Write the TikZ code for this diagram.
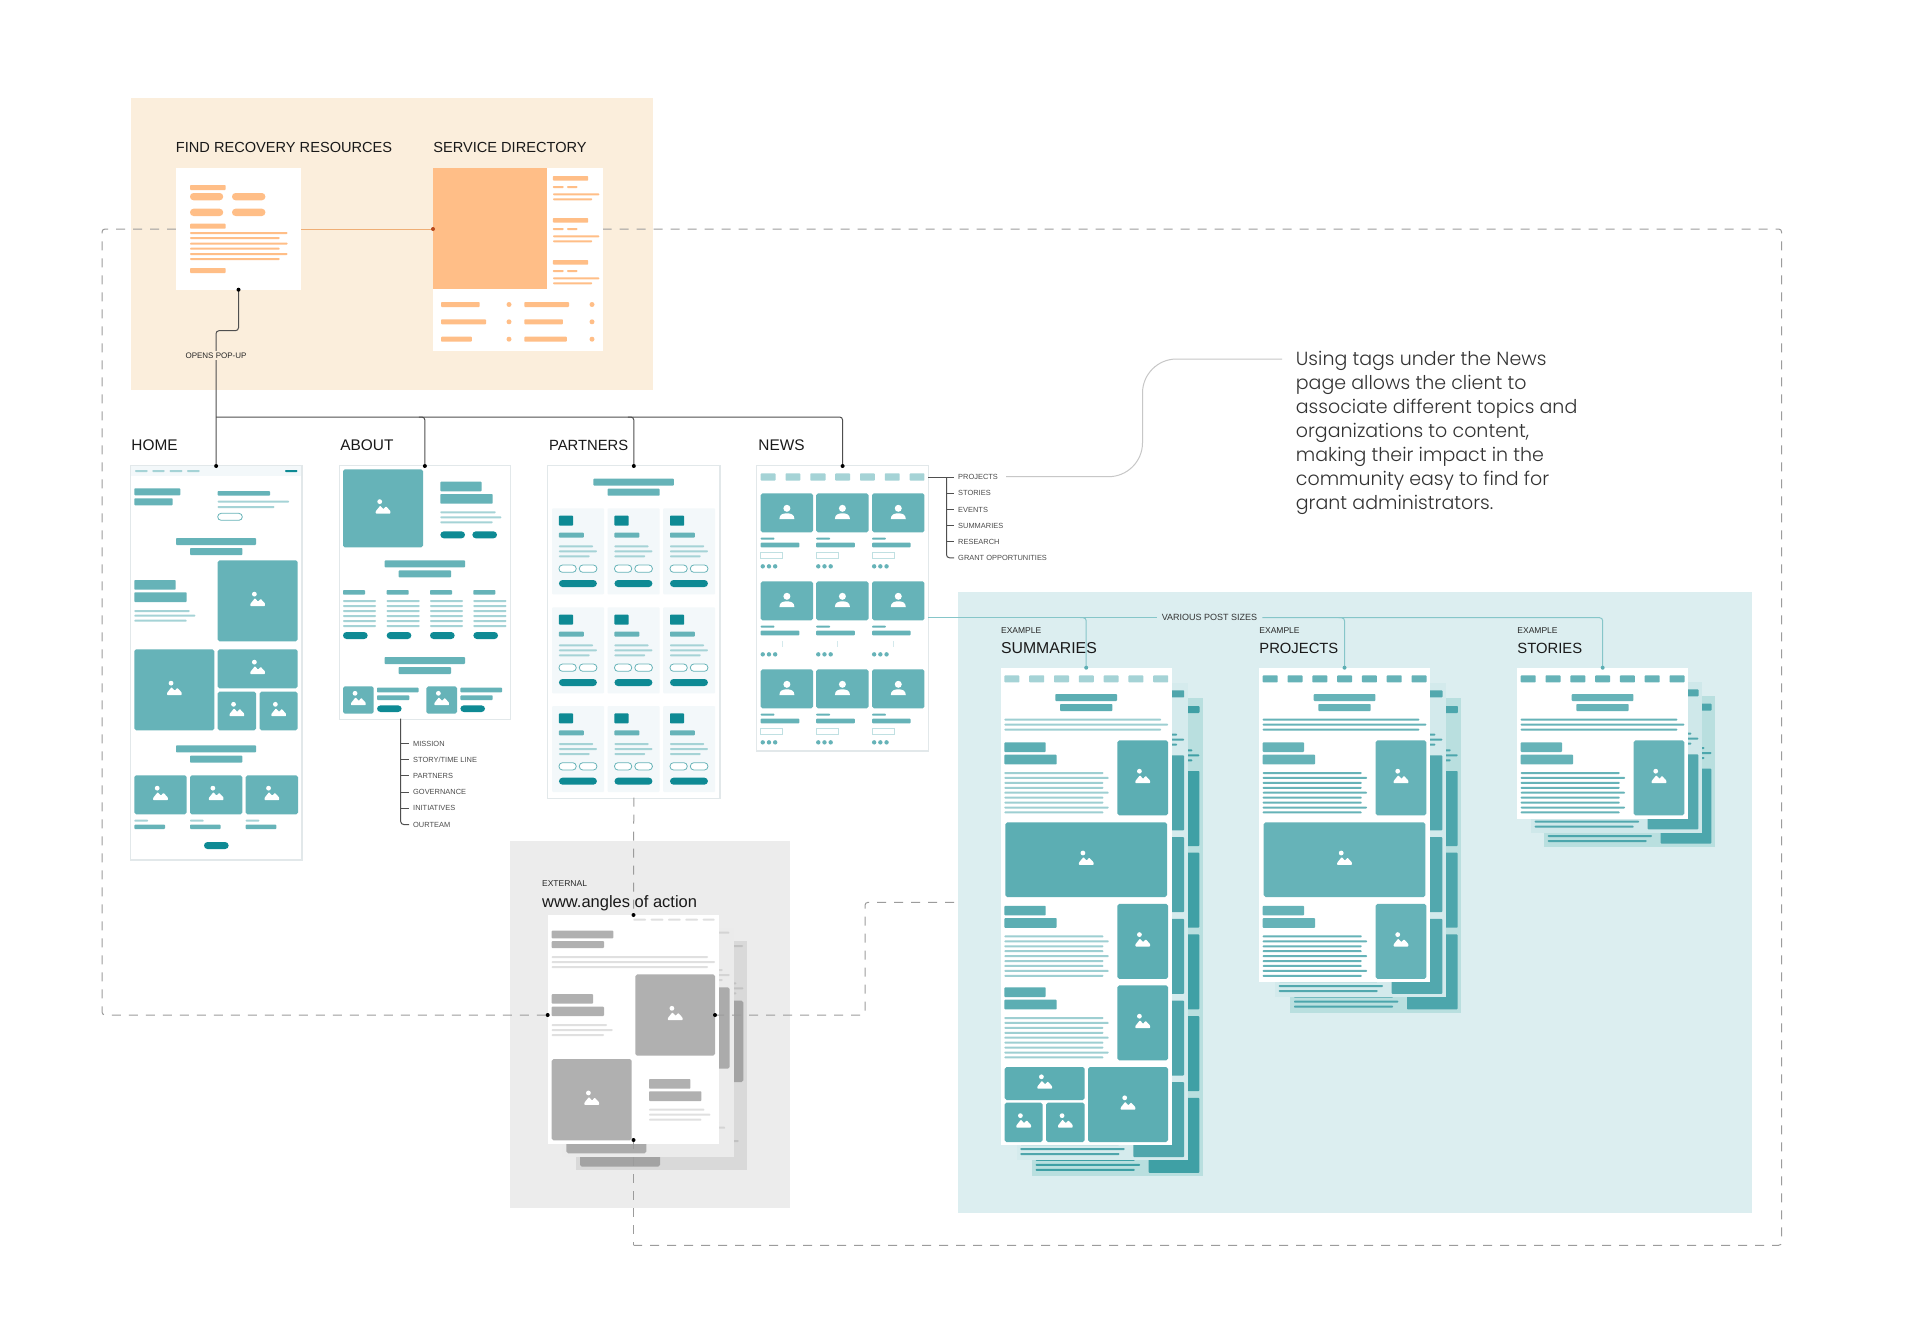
\documentclass[tikz,border=0pt]{standalone}
\usepackage{fontspec}
\setmainfont{Liberation Sans}
\newfontfamily\parafont{Poppins Light}
\usetikzlibrary{calc}
\definecolor{panelO}{HTML}{FBEEDC}
\definecolor{orangeF}{HTML}{FFBE87}
\definecolor{panelT}{HTML}{DCEEF0}
\definecolor{panelG}{HTML}{ECECEC}
\definecolor{tealI}{HTML}{66B3B8}
\definecolor{tealS}{HTML}{5CAEB3}
\definecolor{tealL}{HTML}{A5D3D6}
\definecolor{tealD}{HTML}{0E8A94}
\definecolor{cellB}{HTML}{F3F8FA}
\definecolor{shad}{HTML}{E2E8EA}
\definecolor{dashc}{HTML}{9C9C9C}
\definecolor{connc}{HTML}{4F4F4F}
\definecolor{tconn}{HTML}{86C6C9}
\definecolor{shC}{HTML}{B9DFDF}
\definecolor{shA}{HTML}{D5EBED}
\definecolor{shB}{HTML}{D3EAEC}
\definecolor{shD}{HTML}{CFE8EA}
\definecolor{imA}{HTML}{3FA0A5}
\definecolor{imB}{HTML}{4FA6AC}
\definecolor{imC}{HTML}{4CA6AC}
\definecolor{imD}{HTML}{52A8AE}
\definecolor{dotO}{HTML}{B8481A}
\newcommand\RR[5]{\fill[fill=#1,rounded corners=0.4pt] (#2,#3) rectangle (#4,#5);}
\newcommand\PL[5]{\fill[fill=#1,rounded corners=1.75pt] (#2,#3) rectangle (#4,#5);}
\newcommand\OP[5]{\filldraw[fill=white,draw=#1,line width=0.4pt,rounded corners=1.75pt] (#2,#3) rectangle (#4,#5);}
\newcommand\ICON[2]{\begin{scope}[shift={({#1},{#2})},x=0.5pt,y=-0.5pt]
\fill[white] (-3.3,-6.7) circle (1.2pt);
\fill[white,rounded corners=0.3pt] (-7.3,5.2) -- (-7.3,3) -- (-2.8,-2.6) -- (0.4,0.8) -- (3,-2) -- (7.3,2.6) -- (7.3,5.2) -- cycle;
\end{scope}}
\newcommand\PERSON[2]{\begin{scope}[shift={({#1},{#2})},x=0.5pt,y=-0.5pt]
\fill[white] (0,-4.7) circle (1.75pt);
\fill[white] (-7.5,6) .. controls (-7.5,1.5) and (-4,0.3) .. (0,0.3) .. controls (4,0.3) and (7.5,1.5) .. (7.5,6) -- cycle;
\end{scope}}
\newcommand\IM[5]{\fill[fill=#1,rounded corners=0.9pt] (#2,#3) rectangle (#4,#5);\ICON{(#2+#4)/2}{(#3+#5)/2}}
% named page card given by its corners in pixels
\newcommand\PG[6]{\node[minimum width=#4*0.5pt-#2*0.5pt,minimum height=#5*0.5pt-#3*0.5pt,inner sep=0pt,outer sep=0pt,fill=#6] (#1) at ({(#2+#4)/2},{(#3+#5)/2}) {};}
\newcommand\SH[4]{\fill[shad] (#1-1,#2-0.7) rectangle (#3+1.2,#4+1.6);}
% teal sheets
\def\imgc{tealI}\def\linec{tealI}
\newcommand\THead[1]{%
 \foreach \i in {0,...,6}{\RR{#1}{3.7+24.8*\i}{7.7}{18.7+24.8*\i}{14.7}}%
 \RR{\imgc}{54.7}{26.3}{116.3}{33.3}\RR{\imgc}{59.3}{36.3}{111.7}{43.3}%
 \RR{\linec}{3.7}{51}{160.3}{53}\RR{\linec}{3.7}{56}{167.3}{58}\RR{\linec}{3.7}{61}{160.3}{63}}
\newcommand\TBlock[1]{%
 \RR{\imgc}{3.7}{74.7+#1}{45}{84.3+#1}\RR{\imgc}{3.7}{87+#1}{56}{96.7+#1}%
 \foreach \k/\w in {0/102.7,1/108,2/102.7,3/102.7,4/108,5/102.7,6/102.7,7/108,8/102.7}{\RR{\linec}{3.7}{104.3+4.93*\k+#1}{\w}{106.3+4.93*\k+#1}}%
 \IM{\imgc}{116.7}{72.7+#1}{167.3}{147.7+#1}}
\newcommand\TBack[6]{\begin{scope}[shift={(#1,#2)}]
 \fill[fill=#4] (0,0) rectangle (171,#3);
 \def\imgc{#5}\def\linec{#5}
 \THead{#5}
 \pgfmathtruncatemacro\nn{#6-1}
 \foreach \k in {0,...,\nn}{\RR{#5}{116.7}{72.7+81.7*\k}{167.3}{147.7+81.7*\k}}
 \RR{#5}{3.7}{#3-17}{102.7}{#3-15}\RR{#5}{3.7}{#3-12}{108}{#3-10}\RR{#5}{3.7}{#3-7}{102.7}{#3-5}
\end{scope}}
% external sheets
\newcommand\XPage[5]{\begin{scope}[shift={(#1,#2)}]
 \fill[fill=#3] (0,0) rectangle (171.3,229);
 \foreach \a/\b in {85.7/98.3,103/115.7,120.3/133,137.7/150.3,155/167}{\RR{#5}{\a}{3.7}{\b}{5.7}}
 \RR{#4}{4}{15.7}{65.7}{23.3}\RR{#4}{4}{26}{56.3}{33}
 \RR{#5}{4}{41}{160.3}{43}\RR{#5}{4}{46}{167.3}{48}\RR{#5}{4}{51}{160.3}{53}
 \IM{#4}{87.7}{59.3}{167.3}{140.7}
 \RR{#4}{4}{79}{45.3}{88.7}\RR{#4}{4}{91.7}{56.3}{101}
 \RR{#5}{4}{109}{59.3}{111}\RR{#5}{4}{114}{65}{116}\RR{#5}{4}{119}{56.3}{121}
 \IM{#4}{4}{144}{84}{225.3}
 \RR{#4}{101.3}{164}{142.7}{173.7}\RR{#4}{101.3}{176.3}{153.7}{186}
 \RR{#5}{101.3}{193.7}{156.7}{195.7}\RR{#5}{101.3}{198.7}{162.7}{200.7}\RR{#5}{101.3}{203.7}{153.7}{205.7}
\end{scope}}
\tikzset{
 ttl/.style={anchor=west,inner sep=0pt,font=\fontsize{7.4}{8}\selectfont,text=black!90},
 ttlA/.style={ttl,font=\fontsize{7.3}{8}\selectfont},
 ttlB/.style={ttl,font=\fontsize{7.7}{8}\selectfont},
 sml/.style={anchor=west,inner sep=0pt,font=\fontsize{4.25}{5}\selectfont,text=black!85},
 tag/.style={anchor=west,inner sep=1.9pt,font=\fontsize{3.72}{4.5}\selectfont,text=black!70},
 conn/.style={draw=connc,line width=0.5pt,rounded corners=1.5pt},
 tcon/.style={draw=tconn,line width=0.5pt,rounded corners=1.5pt},
 dashl/.style={draw=dashc,line width=0.5pt,dash pattern=on 4.5pt off 4pt,rounded corners=1.5pt},
}
\begin{document}
\begin{tikzpicture}[x=0.5pt,y=-0.5pt]
\useasboundingbox (0,0) rectangle (1920,1343);
\fill[white] (0,0) rectangle (1920,1343);
% panels
\fill[panelO] (131,98) rectangle (652.5,390);
\fill[panelT] (958,592.3) rectangle (1752,1212.7);
\fill[panelG] (510,841) rectangle (790,1207.7);
% anchors for dashed routes
\coordinate (svcL) at (433,229);
\coordinate (svcR) at (602.5,229);
\coordinate (extL) at (547.7,1015);
\coordinate (extR) at (715,1015);
\coordinate (extT) at (633.5,915);
\coordinate (extB) at (633.5,1140);
\coordinate (dTL) at (102,229);
\coordinate (dBL) at (102,1015);
\coordinate (dTR) at (1781.6,229);
\coordinate (dBR) at (1781.6,1245.3);
\coordinate (dBM) at (633.5,1245.3);
\coordinate (dE1) at (865,1015);
\coordinate (dE2) at (865,902.3);
\coordinate (panelIn) at (958,902.3);
% dashed routes under the cards
\draw[dashl] (176,229) -- (dTL) -- (dBL) -- (extL);
\draw[dashl] (svcR) -- (dTR) -- (dBR) -- (dBM);
% cards
\SH{131}{466}{301.3}{859}\SH{339.7}{466}{510}{718.7}\SH{548.3}{466}{719.3}{797.7}\SH{757.2}{466}{928}{750}
\PG{find}{176}{168.3}{301}{289.7}{white}
\PG{service}{432.9}{168.3}{602.5}{351.3}{white}
\PG{home}{131}{466}{301.3}{859}{white}
\PG{about}{339.7}{466}{510}{718.7}{white}
\PG{partners}{548.3}{466}{719.3}{797.7}{white}
\PG{news}{757.2}{466}{928}{750}{white}
% orange contents
\RR{orangeF}{190}{185}{225.7}{190}
\PL{orangeF}{190}{193}{223.2}{200.3}\PL{orangeF}{232}{193}{265.4}{200.3}
\PL{orangeF}{190}{208.7}{223.2}{216}\PL{orangeF}{232}{208.7}{265.4}{216}
\RR{orangeF}{190}{223.7}{225.7}{228.7}
\foreach \a/\b in {232/287.5,237/279.6,242.7/287.5,247.7/279.6,253/287.5,258/279.6}{\RR{orangeF}{190}{\a}{\b}{\a+2}}
\RR{orangeF}{190}{268}{225.7}{273}
\fill[orangeF] (433,168.3) rectangle (547,289.3);
\foreach \o in {0,42,84}{
 \RR{orangeF}{552.9}{176+\o}{588.2}{180.7+\o}
 \RR{orangeF}{552.9}{186+\o}{563.6}{188+\o}\RR{orangeF}{567}{186+\o}{577.5}{188+\o}
 \RR{orangeF}{553}{193.3+\o}{599.3}{195.3+\o}\RR{orangeF}{553}{198.3+\o}{592.1}{200.3+\o}}
\foreach \a/\b/\c in {302/479.6/569,319.3/486/562.9,336.7/471.8/566.8}{
 \RR{orangeF}{441}{\a}{\b}{\a+5}\RR{orangeF}{524.3}{\a}{\c}{\a+5}
 \fill[orangeF] (509,\a+2.5) circle (1.25pt);\fill[orangeF] (592,\a+2.5) circle (1.25pt);}
% HOME and ABOUT contents, in 3x zoom coordinates
\begin{scope}[shift={(120,430)},x=0.16667pt,y=-0.16667pt]
\fill[cellB] (33,108) rectangle (544,137);
\foreach \a/\b in {45/83,97/134,149/187,201/239}{\RR{tealL}{\a}{120}{\b}{126}}
\RR{tealD}{495}{120}{532}{126}
\RR{tealI}{43}{175}{181}{196}\RR{tealI}{43}{205}{158}{226}
\RR{tealI}{293}{183}{450}{197}\RR{tealL}{293}{212}{507}{218}\RR{tealL}{293}{228}{463}{234}
\OP{tealI}{293}{250}{367}{271}
\RR{tealI}{168}{324}{408}{345}\RR{tealI}{210}{354}{367}{375}
\IM{tealI}{293}{391}{533}{634}
\RR{tealI}{43}{450}{167}{479}\RR{tealI}{43}{487}{200}{516}
\RR{tealL}{43}{540}{209}{546}\RR{tealL}{43}{554}{226}{560}\RR{tealL}{43}{569}{200}{575}
\IM{tealI}{43}{658}{283}{901}\IM{tealI}{293}{658}{533}{775}\IM{tealI}{293}{785}{408}{901}\IM{tealI}{419}{785}{533}{901}
\RR{tealI}{168}{946}{408}{967}\RR{tealI}{210}{977}{367}{998}
\foreach \a in {43,210,377}{
 \IM{tealI}{\a}{1036}{\a+157}{1153}
 \RR{tealL}{\a}{1169}{\a+41}{1175}\RR{tealI}{\a}{1184}{\a+92}{1197}}
\PL{tealD}{252}{1236}{326}{1257}
% about
\IM{tealI}{669}{118}{909}{352}
\RR{tealI}{961}{155}{1085}{184}\RR{tealI}{961}{192}{1118}{221}
\RR{tealL}{961}{244}{1127}{250}\RR{tealL}{961}{259}{1144}{265}\RR{tealL}{961}{274}{1118}{280}
\PL{tealD}{961}{304}{1035}{325}\PL{tealD}{1057}{304}{1131}{325}
\RR{tealI}{794}{391}{1035}{412}\RR{tealI}{836}{421}{993}{442}
\foreach \a in {669,800,930,1060}{
 \RR{tealI}{\a}{480}{\a+66}{494}
 \foreach \b in {510,525,540,555,570,585}{\RR{tealL}{\a}{\b}{\a+99}{\b+6}}
 \PL{tealD}{\a}{606}{\a+74}{627}}
\RR{tealI}{794}{681}{1035}{702}\RR{tealI}{836}{711}{993}{732}
\foreach \a in {669,919}{
 \IM{tealI}{\a}{769}{\a+92}{851}
 \RR{tealI}{\a+102}{773}{\a+227}{787}\RR{tealI}{\a+102}{796}{\a+199}{810}\PL{tealD}{\a+102}{826}{\a+176}{846}}
\end{scope}
% PARTNERS and NEWS contents
\begin{scope}[shift={(530,430)},x=0.17241pt,y=-0.16667pt]
\RR{tealI}{184}{146}{417}{167}\RR{tealI}{225}{176}{376}{197}
\foreach \a in {64,225,386}{\foreach \b in {235,532,828}{
 \fill[cellB,rounded corners=0.5pt] (\a,\b) rectangle (\a+151,\b+258);
 \RR{tealD}{\a+20}{\b+22}{\a+61}{\b+52}
 \RR{tealI}{\a+20}{\b+73}{\a+92}{\b+88}
 \RR{tealL}{\a+20}{\b+111}{\a+119}{\b+117}\RR{tealL}{\a+20}{\b+126}{\a+130}{\b+132}\RR{tealL}{\a+20}{\b+141}{\a+109}{\b+147}
 \OP{tealI}{\a+20}{\b+170}{\a+70}{\b+192}\OP{tealI}{\a+79}{\b+170}{\a+130}{\b+192}
 \PL{tealD}{\a+20}{\b+215}{\a+130}{\b+236}}}
% news
\foreach \a/\b in {669/712,741/784,813/857,885/928,957/1000,1029/1072,1101/1144}{\RR{tealL}{\a}{130}{\b}{152}}
\foreach \a in {669,830,992}{\foreach \b in {190,454,718}{
 \fill[fill=tealI,rounded corners=0.9pt] (\a,\b) rectangle (\a+152,\b+117);
 \PERSON{\a+76}{\b+59}
 \RR{tealI}{\a}{\b+133}{\a+40}{\b+139}
 \RR{tealI}{\a}{\b+148}{\a+112}{\b+162}
 \fill[tealI] (\a+6,\b+219) circle (1.1pt);\fill[tealI] (\a+24,\b+219) circle (1.1pt);\fill[tealI] (\a+42,\b+219) circle (1.1pt);}
 \foreach \b in {190,718}{\filldraw[fill=white,draw=tealL!70,line width=0.3pt] (\a,\b+178) rectangle (\a+64,\b+196);}
 \fill[fill=cellB!60!tealL] (\a+61,632) rectangle (\a+64,650);}
\end{scope}
% labels
\node[ttlA] (tFind) at (175.5,147.5) {FIND RECOVERY RESOURCES};
\node[ttlA] (tServ) at (432.9,147.5) {SERVICE DIRECTORY};
\node[ttlB] (tHome) at (131,445) {HOME};
\node[ttlB] (tAbout) at (340,445) {ABOUT};
\node[ttl] (tPart) at (548.6,445) {PARTNERS};
\node[ttlB] (tNews) at (758,445) {NEWS};
\draw[draw=orangeF!75!brown,line width=0.5pt] (find.east |- svcL) -- (svcL);
\fill[fill=dotO] (svcL) circle (1pt);
% external stack
\XPage{576}{941.3}{black!15}{black!36}{black!24}
\XPage{562.4}{928}{black!8}{black!33}{black!17}
\PG{ext}{547.7}{915}{719}{1144}{white}
\XPage{547.7}{915}{white}{black!31}{black!12}
\node[sml] (tExt) at (541.7,884) {EXTERNAL};
\node[ttl,font=\fontsize{8.25}{9}\selectfont] (tWww) at (541.7,903) {www.angles of action};
\draw[dashl] (partners.south) -- (extT);
\draw[dashl] (extB) -- (dBM);
\draw[dashl] (extR) -- (dE1) -- (dE2) -- (panelIn);
\foreach \p in {extL,extR,extT,extB}{\fill[black] (\p) circle (1pt);}
% Summaries stack
\TBack{1032}{698.3}{477.6}{shC}{imA}{5}
\TBack{1016.7}{682.7}{477.3}{shA}{imB}{5}
\PG{sum}{1000.7}{667.7}{1171.7}{1145.3}{white}
\begin{scope}[shift={(1000.7,667.7)}]
\def\imgc{tealS}\def\linec{tealL!90!tealS}
\THead{tealL}
\TBlock{0}
\IM{tealS}{4.7}{154.7}{166.3}{229.3}
\TBlock{163.4}
\TBlock{245}
\IM{tealS}{4}{399.3}{84}{432.3}\IM{tealS}{4}{435}{42}{474.3}\IM{tealS}{45.3}{435}{84}{474.3}\IM{tealS}{87.3}{399.3}{167.3}{474.3}
\end{scope}
% Projects stack
\TBack{1290.3}{698.3}{314.3}{shC}{imC}{3}
\TBack{1275}{682.7}{314.3}{shB}{imD}{3}
\PG{proj}{1259}{667.7}{1430}{982}{white}
\begin{scope}[shift={(1259,667.7)}]
\def\imgc{tealI}\def\linec{tealI}
\THead{tealI}
\TBlock{0}
\IM{tealI}{4.7}{154.7}{166.3}{229.3}
\TBlock{163.4}
\end{scope}
% Stories stack
\TBack{1544}{696}{151}{shC}{imC}{1}
\TBack{1531}{681.7}{151}{shD}{imD}{1}
\PG{stories}{1517}{667.7}{1688.3}{819}{white}
\begin{scope}[shift={(1517,667.7)}]
\def\imgc{tealI}\def\linec{tealI}
\THead{tealI}
\TBlock{0}
\end{scope}
\node[sml] (eSum) at (1000.7,630.7) {EXAMPLE};
\node[ttl,font=\fontsize{7.9}{8}\selectfont] (tSum) at (1000.7,648.5) {SUMMARIES};
\node[sml] (ePro) at (1259,630.7) {EXAMPLE};
\node[ttl] (tPro) at (1259,648.5) {PROJECTS};
\node[sml] (eSto) at (1517,630.7) {EXAMPLE};
\node[ttl] (tSto) at (1517,648.5) {STORIES};
% various post sizes route
\coordinate (newsR) at (928,617.7);
\node[inner sep=2.4pt,font=\fontsize{4.5}{5}\selectfont,text=black!80] (various) at (1209.5,617) {VARIOUS POST SIZES};
\draw[tcon] (news.east |- newsR) -- (various.west |- newsR);
\draw[tcon] (various.east |- newsR) -- (stories.north |- newsR) -- (stories.north);
\draw[tcon] ($(sum.north |- newsR)+(-6,0)$) -- (sum.north |- newsR) -- (sum.north);
\draw[tcon] ($(proj.north |- newsR)+(-6,0)$) -- (proj.north |- newsR) -- (proj.north);
\foreach \p in {sum,proj,stories}{\fill[fill=tealS] (\p.north) circle (1pt);}
% site tree
\coordinate (trunk) at (216,417);
\coordinate (bend) at (216,330.7);
\draw[conn] (find.south) |- (bend) -- (home.north);
\node[inner sep=1pt,fill=panelO,font=\fontsize{4}{5}\selectfont,text=black!85] (popup) at (216,355.5) {OPENS POP-UP};
\draw[conn] (trunk) -- (news.north |- trunk) -- (news.north);
\draw[conn] ($(about.north |- trunk)+(-6,0)$) -- (about.north |- trunk) -- (about.north);
\draw[conn] ($(partners.north |- trunk)+(-6,0)$) -- (partners.north |- trunk) -- (partners.north);
\foreach \p in {home,about,partners,news}{\fill[black] (\p.north) circle (1pt);}
\fill[black] (find.south) circle (1pt);
% about list
\foreach \n/\t/\yy in {1/MISSION/743.8,2/STORY\slash TIME LINE/759.8,3/PARTNERS/775.8,4/GOVERNANCE/792.2,5/INITIATIVES/808.2,6/OURTEAM/824.5}{
 \node[tag] (a\n) at (409,\yy) {\t};}
\coordinate (aTop) at (400.7,718.7);
\draw[conn] (aTop) |- (a6.west);
\foreach \n in {1,...,5}{\draw[conn] (aTop |- a\n.west) -- (a\n.west);}
% news list
\foreach \n/\t/\yy in {1/PROJECTS/477.2,2/STORIES/493.2,3/EVENTS/509.5,4/SUMMARIES/525.8,5/RESEARCH/541.8,6/GRANT OPPORTUNITIES/557.8}{
 \node[tag] (n\n) at (954,\yy) {\t};}
\coordinate (nTop) at (946.5,477.2);
\draw[conn] (news.east |- n1.west) -- (n1.west);
\draw[conn] (nTop) |- (n6.west);
\foreach \n in {2,...,5}{\draw[conn] (nTop |- n\n.west) -- (n\n.west);}
% callout
\coordinate (cBot) at (1142.5,476.7);
\coordinate (cTop) at (1142.5,359);
\coordinate (cEnd) at (1282,359);
\draw[draw=black!22,line width=0.5pt,rounded corners=17pt] ([xshift=2pt]n1.east |- cBot) -- (cBot) -- (cTop) -- (cEnd);
\node[anchor=north west,inner sep=0pt,align=left,text=black!80,font=\parafont\fontsize{9.5}{11.95}\selectfont] (para) at (1295.5,351) {Using tags under the News\\page allows the client to\\associate different topics and\\organizations to content,\\making their impact in the\\community easy to find for\\grant administrators.};
\end{tikzpicture}
\end{document}
